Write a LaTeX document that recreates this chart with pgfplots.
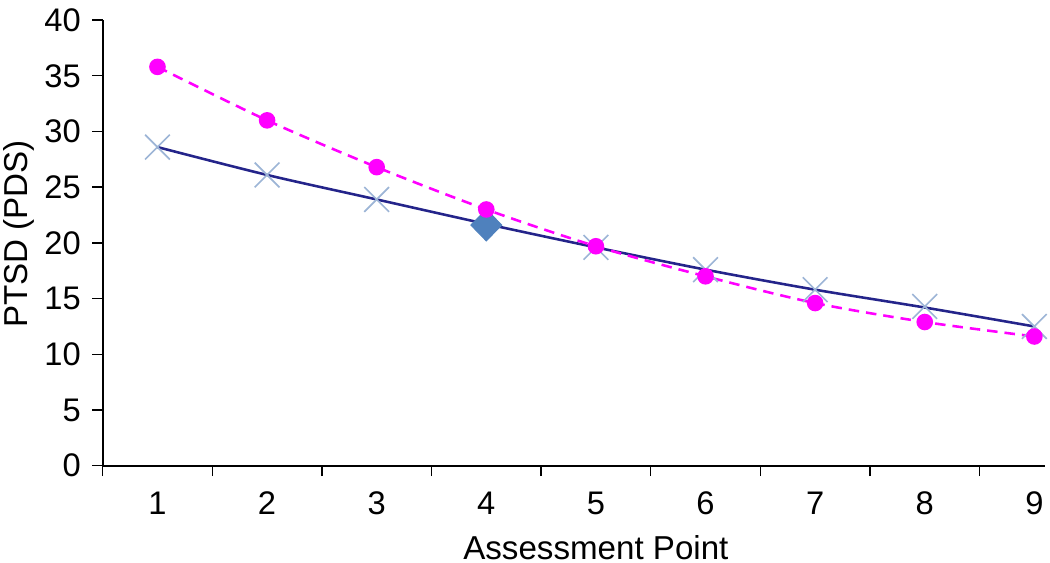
\documentclass[border=0pt]{standalone}
\usepackage{pgfplots}
\pgfplotsset{compat=1.18}
\usepackage{fontspec}
\setmainfont{Liberation Sans}
\definecolor{navyline}{HTML}{24248A}
\definecolor{xblue}{HTML}{9DB5D6}
\definecolor{dblue}{HTML}{4F81BD}
\definecolor{mag}{HTML}{FF00FF}
\begin{document}
\fontsize{14}{16}\selectfont
\begin{tikzpicture}
\useasboundingbox (-44pt,-41.6pt) rectangle (406pt,199.6pt);
\begin{axis}[
  at={(0,0)}, anchor=south west,
  scale only axis, width=404pt, height=191pt,
  xmin=0.5, xmax=9.1, ymin=0, ymax=40,
  axis x line*=bottom, axis y line*=left,
  axis line style={line width=0.8pt, -},
  major tick length=4.5pt, tick align=outside,
  tick style={line width=0.6pt, black},
  xtick={0.5,1.5,...,8.5}, xticklabels={},
  extra x ticks={1,...,9}, extra x tick labels={1,2,3,4,5,6,7,8,9},
  extra x tick style={tick style={draw=none}, xticklabel style={anchor=center, yshift=-11.5pt}},
  ytick={0,5,...,40},
  /pgf/number format/assume math mode=true,
  ticklabel style={font=\fontsize{14}{16}\selectfont},
  yticklabel style={xshift=0pt},
  label style={font=\fontsize{14.2}{16}\selectfont},
  xlabel={Assessment Point},
  ylabel={PTSD (PDS)},
  xlabel style={at={(axis cs:5,0)}, anchor=center, yshift=-35pt},
  ylabel style={at={(axis description cs:0,0.52)}, anchor=center, yshift=36pt},
  clip=false,
]
% blue series: X markers
\addplot[only marks, mark=x, mark size=7.5pt, mark options={xblue, line width=0.7pt}]
  coordinates {(1,28.6) (2,26.1) (3,23.9) (5,19.6) (6,17.6) (7,15.8) (8,14.3) (9,12.5)};
% blue line
\addplot[navyline, line width=1.1pt, smooth, no marks]
  coordinates {(1,28.6) (2,26.1) (3,23.9) (4,21.7) (5,19.6) (6,17.6) (7,15.8) (8,14.2) (9,12.5)};
% diamond at 4
\addplot[only marks, mark=diamond*, mark size=6.8pt, mark options={fill=dblue, draw=dblue, xscale=1.3}]
  coordinates {(4,21.6)};
% magenta series
\addplot[mag, line width=1.1pt, smooth, dash pattern=on 4.5pt off 3pt,
  mark=*, mark size=3pt, mark options={solid, fill=mag, draw=mag}]
  coordinates {(1,35.8) (2,31.0) (3,26.8) (4,23.0) (5,19.7) (6,17.0) (7,14.6) (8,12.9) (9,11.6)};
\end{axis}
\end{tikzpicture}
\end{document}
